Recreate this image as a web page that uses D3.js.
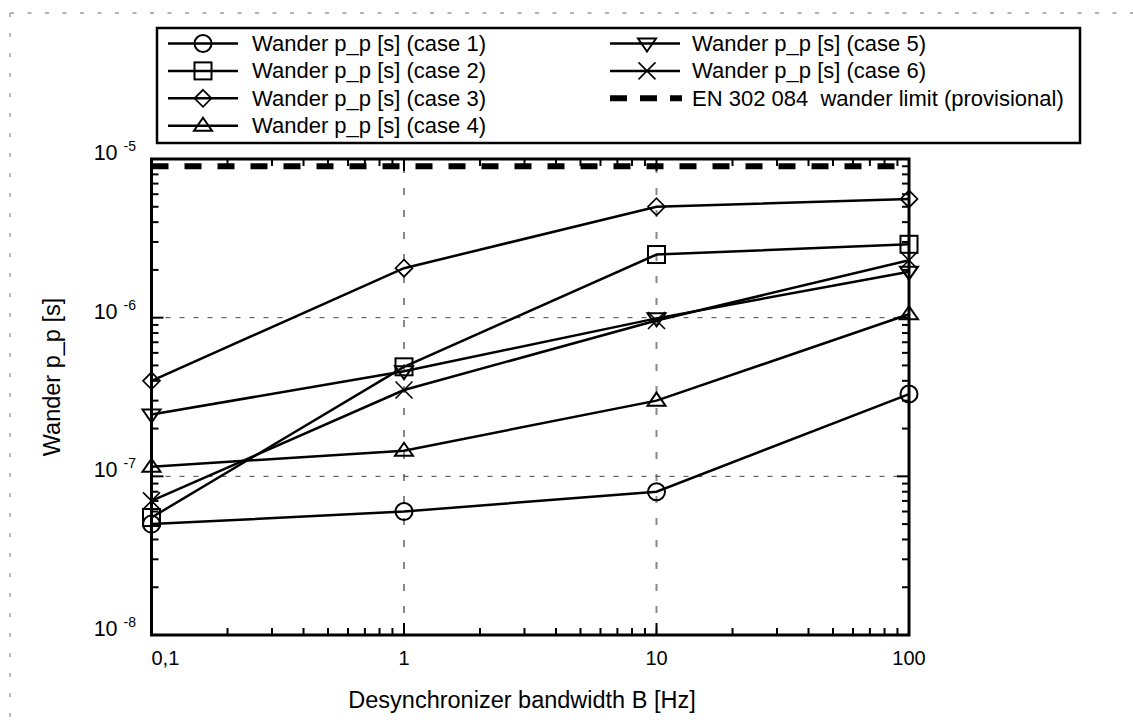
<!DOCTYPE html>
<html>
<head>
<meta charset="utf-8">
<script src="https://cdn.jsdelivr.net/npm/d3@7"></script>
<style>
  body { margin: 0; background: #fff; }
  svg { display: block; font-family: "Liberation Sans", Arial, sans-serif; }
</style>
</head>
<body>
<svg id="chart" width="1133" height="722"></svg>
<script>
// data
const bandwidth = [0.1, 1, 10, 100];
const case1 = [5.0e-8, 6.0e-8, 8.0e-8, 3.3e-7];
const case2 = [5.5e-8, 4.9e-7, 2.5e-6, 2.9e-6];
const case3 = [4.0e-7, 2.05e-6, 5.0e-6, 5.6e-6];
const case4 = [1.15e-7, 1.45e-7, 3.0e-7, 1.05e-6];
const case5 = [2.45e-7, 4.6e-7, 9.9e-7, 1.95e-6];
const case6 = [7.0e-8, 3.5e-7, 9.6e-7, 2.3e-6];
const wanderLimit = 9e-6;

const seriesNames = [
  'Wander p_p [s] (case 1)', 'Wander p_p [s] (case 2)', 'Wander p_p [s] (case 3)',
  'Wander p_p [s] (case 4)', 'Wander p_p [s] (case 5)', 'Wander p_p [s] (case 6)'
];
const limitName = 'EN 302 084  wander limit (provisional)';
const symbols = ['circle', 'square', 'diamond', 'triangle', 'triangleDown', 'cross'];

const xTicks = [0.1, 1, 10, 100];
const xTickLabels = ['0,1', '1', '10', '100'];
const yTicks = [1e-8, 1e-7, 1e-6, 1e-5];
const yTickExponents = ['-8', '-7', '-6', '-5'];
const xGrid = [1, 10];
const yGrid = [1e-7, 1e-6];

const series = [case1, case2, case3, case4, case5, case6];

const svg = d3.select('#chart');

const x = d3.scaleLog().domain([0.1, 100]).range([151.5, 909]);
const y = d3.scaleLog().domain([1e-8, 1e-5]).range([635, 159]);
const [x0, x1] = x.range();
const [y0, y1] = y.range();

// figure border (dotted)
svg.append('line').attr('x1', 10).attr('y1', 13).attr('x2', 1133).attr('y2', 13)
  .attr('stroke', '#999').attr('stroke-width', 1.3).attr('stroke-dasharray', '4,13.5');
svg.append('line').attr('x1', 10).attr('y1', 13).attr('x2', 10).attr('y2', 722)
  .attr('stroke', '#999').attr('stroke-width', 1.3).attr('stroke-dasharray', '4,16');

// grid
svg.selectAll('.xgrid').data(xGrid).enter().append('line')
  .attr('x1', d => x(d)).attr('x2', d => x(d)).attr('y1', y0).attr('y2', y1)
  .attr('stroke', '#888').attr('stroke-width', 2).attr('stroke-dasharray', '7,15');
svg.selectAll('.ygrid').data(yGrid).enter().append('line')
  .attr('x1', x0).attr('x2', x1).attr('y1', d => y(d)).attr('y2', d => y(d))
  .attr('stroke', '#444').attr('stroke-width', 1).attr('stroke-dasharray', '5,9');

// limit line
svg.append('line')
  .attr('x1', x0).attr('x2', x1).attr('y1', y(wanderLimit)).attr('y2', y(wanderLimit))
  .attr('stroke', '#000').attr('stroke-width', 6).attr('stroke-dasharray', '17,16');

function drawMarker(g, type, cx, cy) {
  const m = g.append('g').attr('transform', `translate(${cx},${cy})`)
    .attr('fill', 'none').attr('stroke', '#000').attr('stroke-width', 2);
  if (type === 'circle') m.append('circle').attr('r', 8.5);
  else if (type === 'square') m.append('rect').attr('x', -8.5).attr('y', -8.5).attr('width', 17).attr('height', 17);
  else if (type === 'diamond') m.append('path').attr('d', 'M0,-8.5L8.5,0L0,8.5L-8.5,0Z').attr('stroke-width', 1.7);
  else if (type === 'triangle') m.append('path').attr('d', 'M0,-8L9,5L-9,5Z');
  else if (type === 'triangleDown') m.append('path').attr('d', 'M0,8L9,-5L-9,-5Z');
  else if (type === 'cross') m.append('path').attr('d', 'M-8.5,-8.5L8.5,8.5M-8.5,8.5L8.5,-8.5').attr('stroke-width', 1.6);
}

const line = d3.line().x((d, i) => x(bandwidth[i])).y(d => y(d));
const plot = svg.append('g');
series.forEach((vals, k) => {
  plot.append('path').datum(vals).attr('d', line)
    .attr('fill', 'none').attr('stroke', '#000').attr('stroke-width', 2.5);
});
series.forEach((vals, k) => {
  vals.forEach((v, i) => drawMarker(plot, symbols[k], x(bandwidth[i]), y(v)));
});

// frame
svg.append('rect').attr('x', x0).attr('y', y1).attr('width', x1 - x0).attr('height', y0 - y1)
  .attr('fill', 'none').attr('stroke', '#000').attr('stroke-width', 3);

const isMajor = t => Math.abs(Math.log10(t) - Math.round(Math.log10(t))) < 1e-6;
const ticks = svg.append('g').attr('stroke', '#000').attr('stroke-width', 2);
x.ticks().forEach(t => {
  const len = isMajor(t) ? 12 : 7;
  ticks.append('line').attr('x1', x(t)).attr('x2', x(t)).attr('y1', y0).attr('y2', y0 - len);
  ticks.append('line').attr('x1', x(t)).attr('x2', x(t)).attr('y1', y1).attr('y2', y1 + len);
});
y.ticks().forEach(t => {
  const len = isMajor(t) ? 12 : 7;
  ticks.append('line').attr('y1', y(t)).attr('y2', y(t)).attr('x1', x0).attr('x2', x0 + len);
  ticks.append('line').attr('y1', y(t)).attr('y2', y(t)).attr('x1', x1).attr('x2', x1 - len);
});

// tick labels
svg.selectAll('.xlab').data(xTicks).enter().append('text')
  .attr('x', d => x(d)).attr('y', 665)
  .attr('text-anchor', (d, i) => i === 0 ? 'start' : 'middle')
  .attr('font-size', 20).text((d, i) => xTickLabels[i]);

const ylab = svg.selectAll('.ylab').data(yTicks).enter().append('text')
  .attr('x', 136).attr('y', d => y(d) + 1).attr('text-anchor', 'end').attr('font-size', 21.5);
ylab.append('tspan').text('10');
ylab.append('tspan').attr('dx', 6).attr('dy', -9).attr('font-size', 14)
  .text((d, i) => yTickExponents[i]);

// axis titles
svg.append('text').attr('x', 522).attr('y', 708).attr('text-anchor', 'middle')
  .attr('font-size', 23.5).text('Desynchronizer bandwidth B [Hz]');
svg.append('text').attr('transform', 'translate(60,377) rotate(-90)').attr('text-anchor', 'middle')
  .attr('font-size', 23.5).text('Wander p_p [s]');

// legend
const legend = svg.append('g');
legend.append('rect').attr('x', 157).attr('y', 28).attr('width', 923).attr('height', 115)
  .attr('fill', '#fff').attr('stroke', '#000').attr('stroke-width', 2.5);
const rowY = i => 51 + i * 27.4;
const legendItems = seriesNames.map((name, k) => ({
  name, symbol: symbols[k], col: k < 4 ? 0 : 1, row: k < 4 ? k : k - 4
}));
legendItems.push({ name: limitName, symbol: 'limit', col: 1, row: 2 });
const colX = [{ l0: 168, l1: 238, m: 203, t: 252 }, { l0: 610, l1: 680, m: 647, t: 692 }];
legendItems.forEach(it => {
  const c = colX[it.col];
  const cy = rowY(it.row) - 7.5;
  if (it.symbol === 'limit') {
    legend.append('line').attr('x1', c.l0).attr('x2', c.l1 + 2).attr('y1', cy).attr('y2', cy)
      .attr('stroke', '#000').attr('stroke-width', 6).attr('stroke-dasharray', '17,13');
  } else {
    legend.append('line').attr('x1', c.l0).attr('x2', c.l1).attr('y1', cy).attr('y2', cy)
      .attr('stroke', '#000').attr('stroke-width', 2.5);
    drawMarker(legend, it.symbol, c.m, cy);
  }
  legend.append('text').attr('x', c.t).attr('y', rowY(it.row)).attr('font-size', 22)
    .style('white-space', 'pre').text(it.name);
});
</script>
</body>
</html>
